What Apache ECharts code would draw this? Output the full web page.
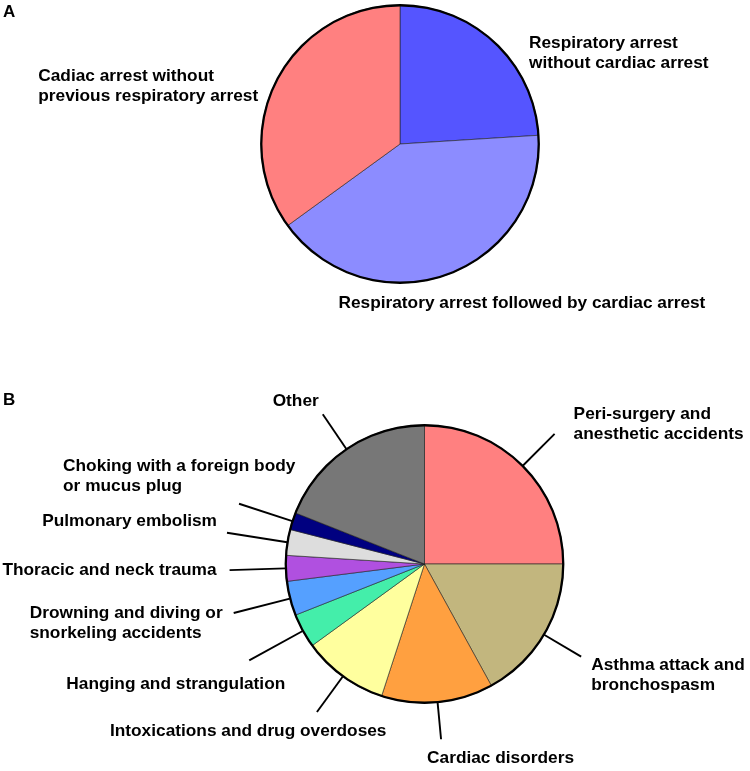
<!DOCTYPE html>
<html>
<head>
<meta charset="utf-8">
<script src="https://cdn.jsdelivr.net/npm/echarts@6/dist/echarts.min.js"></script>
<style>html,body{margin:0;padding:0;background:#fff}#c{width:750px;height:771px}</style>
</head>
<body>
<div id="c"></div>
<script>
// ---- Panel A data ----
const catsA = [
  'Respiratory arrest\nwithout cardiac arrest',
  'Respiratory arrest followed by cardiac arrest',
  'Cadiac arrest without\nprevious respiratory arrest'
];
const valsA = [24, 41, 35];
const colorsA = ['#5555FF', '#8C8CFF', '#FF8080'];

// ---- Panel B data ----
const catsB = [
  'Peri-surgery and\nanesthetic accidents',
  'Asthma attack and\nbronchospasm',
  'Cardiac disorders',
  'Intoxications and drug overdoses',
  'Hanging and strangulation',
  'Drowning and diving or\nsnorkeling accidents',
  'Thoracic and neck trauma',
  'Pulmonary embolism',
  'Choking with a foreign body\nor mucus plug',
  'Other'
];
const valsB = [25, 17, 13, 10, 4, 4, 3, 3, 2, 19];
const colorsB = ['#FF8080', '#C2B67E', '#FFA040', '#FFFF9E', '#44EEAA', '#55A0FF', '#B050E0', '#DDDDDD', '#000080', '#777777'];

// label placement (layout only): [leader length, dx, dy, align] relative to leader end
const placeA = [[10, 27, -2, 'left'], [10, -112, 9, 'left'], [10, -229, -10, 'left']];
const placeB = [
  [45, 19, -30, 'left'], [43, 10, -1, 'left'], [37, -14, 9, 'left'], [44, -207, 9, 'left'],
  [61, 36, 14, 'right'], [58, -204, -10, 'left'], [56, -13, -10, 'right'], [61, -10, -21, 'right'],
  [56, -176, -47, 'left'], [42, -4, -23, 'right']
];

const FONT = 'Liberation Sans, Arial, Helvetica, sans-serif';

function pieSeries(cats, vals, colors, place, center, lineOpacity) {
  return {
    type: 'pie',
    center: center,
    radius: 139,
    startAngle: 90,
    clockwise: true,
    avoidLabelOverlap: false,
    silent: true,
    itemStyle: { borderColor: '#222', borderWidth: 0.6 },
    label: {
      show: true, position: 'outside', color: '#000',
      fontFamily: FONT, fontWeight: 'bold', fontSize: 17.3, lineHeight: 20
    },
    labelLine: { show: true, length2: 0, smooth: false, lineStyle: { color: '#000', width: 1.9, opacity: lineOpacity } },
    data: cats.map((n, i) => ({
      name: n, value: vals[i],
      itemStyle: { color: colors[i] },
      labelLine: { length: place[i][0] }
    })),
    labelLayout: function (p) {
      const pl = place[p.dataIndex];
      const pts = p.labelLinePoints;
      if (!pts) return {};
      const end = pts[pts.length - 1];
      return { x: end[0] + pl[1], y: end[1] + pl[2], align: pl[3], verticalAlign: 'top', labelLinePoints: pts };
    }
  };
}

function outline(center) {
  return {
    type: 'pie', center: center, radius: [137.6, 139.9], silent: true,
    label: { show: false }, labelLine: { show: false },
    itemStyle: { color: '#000', borderWidth: 0 },
    data: [{ value: 1, name: 'outline' }]
  };
}

const chart = echarts.init(document.getElementById('c'));
chart.setOption({
  animation: false,
  backgroundColor: '#fff',
  title: [
    { text: 'A', left: 3, top: 4, padding: 0, textStyle: { fontFamily: FONT, fontWeight: 'bold', fontSize: 17, color: '#000' } },
    { text: 'B', left: 3, top: 392, padding: 0, textStyle: { fontFamily: FONT, fontWeight: 'bold', fontSize: 17, color: '#000' } }
  ],
  series: [
    pieSeries(catsA, valsA, colorsA, placeA, [400, 144], 0),
    outline([400, 144]),
    pieSeries(catsB, valsB, colorsB, placeB, [424.5, 564], 1),
    outline([424.5, 564])
  ]
});
</script>
</body>
</html>
